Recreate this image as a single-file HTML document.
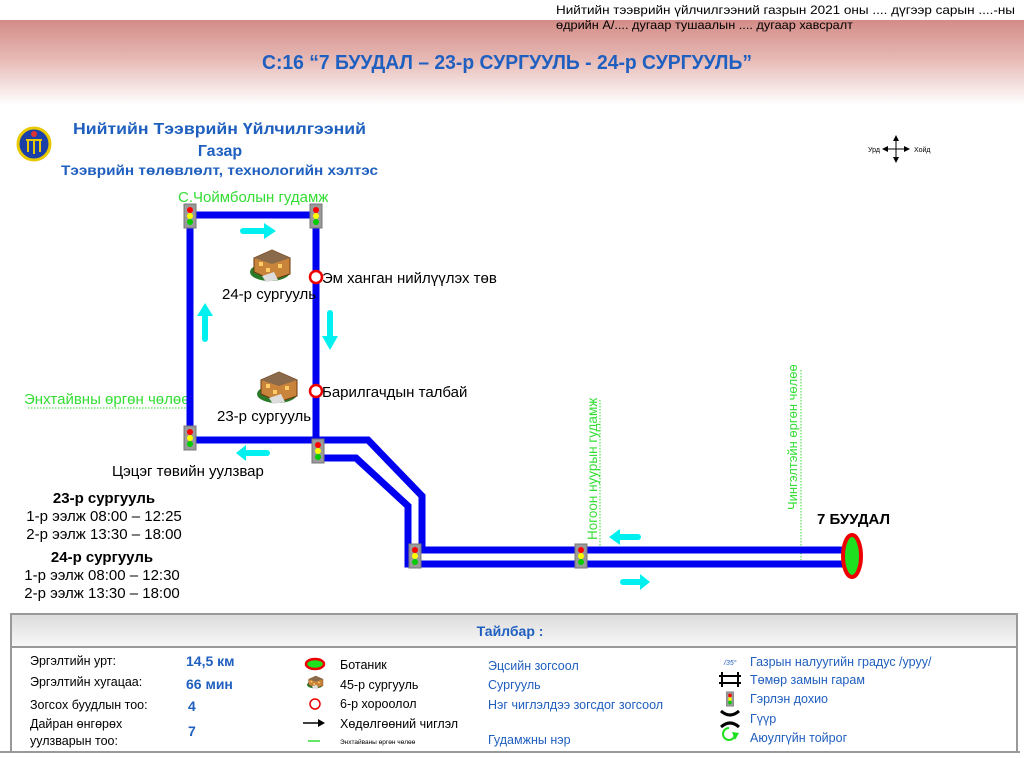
<!DOCTYPE html>
<html><head><meta charset="utf-8"><style>
body{margin:0;width:1024px;height:758px;overflow:hidden;background:#fff}
svg{display:block;font-family:"Liberation Sans",sans-serif}
</style></head><body>
<svg width="1024" height="758" viewBox="0 0 1024 758" xmlns="http://www.w3.org/2000/svg">
<defs>
<linearGradient id="hd" x1="0" y1="0" x2="0" y2="1">
<stop offset="0" stop-color="#d38c87"/><stop offset="0.45" stop-color="#e6b8b4"/><stop offset="1" stop-color="#ffffff"/>
</linearGradient>
<linearGradient id="lg" x1="0" y1="0" x2="0" y2="1">
<stop offset="0" stop-color="#dcdcdc"/><stop offset="1" stop-color="#f8f8f8"/>
</linearGradient>
<g id="tl"><rect x="-6" y="-12" width="12" height="24" fill="#9a9a9a" stroke="#777" stroke-width="1"/>
<circle cx="0" cy="-6" r="3" fill="#f00"/><circle cx="0" cy="0" r="3" fill="#ff0"/><circle cx="0" cy="6" r="3" fill="#0c0"/></g>
<g id="sch">
<ellipse cx="20" cy="22" rx="20" ry="9" fill="#2a7a2a"/>
<polygon points="4,8 22,0 40,8 40,24 22,30 4,22" fill="#c8843a" stroke="#6a3a10" stroke-width="1"/>
<polygon points="4,8 22,0 40,8 22,14" fill="#8a6a4a"/>
<rect x="9" y="12" width="4" height="4" fill="#fc6"/><rect x="28" y="14" width="4" height="4" fill="#fc6"/><rect x="16" y="18" width="4" height="4" fill="#fc6"/>
<polygon points="12,26 24,22 28,30 16,32" fill="#ddd"/>
</g>
</defs>

<rect x="0" y="20" width="1024" height="85" fill="url(#hd)"/>
<text x="556" y="14" font-size="12" fill="#000" textLength="459" lengthAdjust="spacingAndGlyphs">Нийтийн тээврийн үйлчилгээний газрын 2021 оны .... дүгээр  сарын ....-ны</text>
<text x="556" y="29" font-size="12" fill="#000" textLength="297" lengthAdjust="spacingAndGlyphs">өдрийн А/.... дугаар тушаалын .... дугаар хавсралт</text>
<text x="262" y="69" font-size="20" font-weight="bold" fill="#1f5fbf" textLength="490" lengthAdjust="spacingAndGlyphs">С:16 “7 БУУДАЛ – 23-р СУРГУУЛЬ - 24-р СУРГУУЛЬ”</text>

<circle cx="34" cy="144" r="16" fill="#1a3fa8" stroke="#e8c800" stroke-width="3"/>
<path d="M26,140 h16 M28,140 v12 M40,140 v12 M34,140 v14" stroke="#e8c800" stroke-width="2"/>
<circle cx="34" cy="134" r="3" fill="#d33"/>
<text x="73" y="134" font-size="16" font-weight="bold" fill="#1f5fbf" textLength="293" lengthAdjust="spacingAndGlyphs">Нийтийн Тээврийн Үйлчилгээний</text>
<text x="220" y="156" font-size="16" font-weight="bold" fill="#1f5fbf" text-anchor="middle">Газар</text>
<text x="61" y="175" font-size="14" font-weight="bold" fill="#1f5fbf" textLength="317" lengthAdjust="spacingAndGlyphs">Тээврийн төлөвлөлт, технологийн хэлтэс</text>

<g stroke="#000" stroke-width="1"><line x1="896" y1="139" x2="896" y2="159"/><line x1="886" y1="149" x2="906" y2="149"/></g>
<polygon points="896,135 893,141 899,141" fill="#000"/><polygon points="896,163 893,157 899,157" fill="#000"/>
<polygon points="882,149 888,146 888,152" fill="#000"/><polygon points="910,149 904,146 904,152" fill="#000"/>
<text x="868" y="152" font-size="7">Урд</text><text x="914" y="152" font-size="7">Хойд</text>

<g stroke="#33dd33" stroke-width="1" stroke-dasharray="1.5,1.5" fill="none">
<line x1="28" y1="408" x2="188" y2="408"/><line x1="600" y1="400" x2="600" y2="551"/><line x1="801" y1="370" x2="801" y2="560"/>
</g>
<text x="178" y="202" font-size="15" fill="#33dd33">С.Чоймболын гудамж</text>
<text x="24" y="404" font-size="15" fill="#33dd33">Энхтайвны өргөн чөлөө</text>
<text transform="translate(597,540) rotate(-90)" font-size="13.5" fill="#33dd33">Ногоон нуурын гудамж</text>
<text transform="translate(797,510) rotate(-90)" font-size="13" fill="#33dd33">Чингэлтэйн өргөн чөлөө</text>

<g stroke="#0000f0" stroke-width="7" fill="none" stroke-linejoin="miter">
<path d="M190,215 H316 V443"/>
<path d="M190,215 V440 H368 L422,496 V550 H848"/>
<path d="M318,458 H356 L408,506 V564 H848"/>
</g>

<use href="#tl" x="190" y="216"/><use href="#tl" x="316" y="216"/><use href="#tl" x="190" y="438"/>
<use href="#tl" x="318" y="451"/><use href="#tl" x="415" y="556"/><use href="#tl" x="581" y="556"/>

<circle cx="316" cy="277" r="6" fill="#fff" stroke="#e00" stroke-width="2.5"/>
<circle cx="316" cy="391" r="6" fill="#fff" stroke="#e00" stroke-width="2.5"/>
<ellipse cx="852" cy="556" rx="9" ry="21" fill="#1ee01e" stroke="#e00" stroke-width="4"/>

<use href="#sch" x="250" y="250"/><use href="#sch" x="257" y="372"/>
<text x="222" y="299" font-size="15">24-р сургууль</text>
<text x="217" y="421" font-size="15">23-р сургууль</text>
<text x="322" y="283" font-size="15">Эм ханган нийлүүлэх төв</text>
<text x="322" y="397" font-size="15">Барилгачдын талбай</text>
<text x="112" y="476" font-size="15">Цэцэг төвийн уулзвар</text>
<text x="817" y="524" font-size="15" font-weight="bold">7 БУУДАЛ</text>

<g fill="#00f0f0">
<rect x="240" y="228" width="26" height="6" rx="3"/><polygon points="264,223 276,231 264,239"/>
<rect x="202" y="314" width="6" height="28" rx="3"/><polygon points="197,316 205,303 213,316"/>
<rect x="327" y="310" width="6" height="28" rx="3"/><polygon points="322,336 330,350 338,336"/>
<rect x="244" y="450" width="26" height="6" rx="3"/><polygon points="246,445 236,453 246,461"/>
<rect x="617" y="534" width="24" height="6" rx="3"/><polygon points="620,529 609,537 620,545"/>
<rect x="620" y="579" width="24" height="6" rx="3"/><polygon points="640,574 650,582 640,590"/>
</g>

<g font-size="15" text-anchor="middle">
<text x="104" y="503" font-weight="bold">23-р сургууль</text>
<text x="104" y="521">1-р ээлж 08:00 – 12:25</text>
<text x="104" y="539">2-р ээлж 13:30 – 18:00</text>
<text x="102" y="562" font-weight="bold">24-р сургууль</text>
<text x="102" y="580">1-р ээлж 08:00 – 12:30</text>
<text x="102" y="598">2-р ээлж 13:30 – 18:00</text>
</g>

<line x1="0" y1="752" x2="1020" y2="752" stroke="#999" stroke-width="2"/>
<rect x="11" y="614" width="1006" height="138" fill="#fff" stroke="#999" stroke-width="2"/>
<rect x="12" y="615" width="1004" height="32" fill="url(#lg)"/>
<line x1="11" y1="647" x2="1017" y2="647" stroke="#999" stroke-width="2"/>
<text x="510" y="636" font-size="14" font-weight="bold" fill="#1f5fbf" text-anchor="middle">Тайлбар :</text>
<g font-size="12.5" fill="#000">
<text x="30" y="665">Эргэлтийн урт:</text>
<text x="30" y="686">Эргэлтийн хугацаа:</text>
<text x="30" y="709">Зогсох буудлын тоо:</text>
<text x="30" y="728">Дайран өнгөрөх</text>
<text x="30" y="745">уулзварын тоо:</text>
</g>
<g font-size="14" font-weight="bold" fill="#1f5fbf">
<text x="186" y="666">14,5 км</text><text x="186" y="689">66 мин</text><text x="188" y="711">4</text><text x="188" y="736">7</text>
</g>
<ellipse cx="315" cy="664" rx="9" ry="5" fill="#1ee01e" stroke="#e00" stroke-width="2.5"/>
<use href="#sch" transform="translate(307,676) scale(0.4)"/>
<circle cx="315" cy="704" r="5" fill="none" stroke="#e00" stroke-width="1.5"/>
<line x1="303" y1="723" x2="323" y2="723" stroke="#000" stroke-width="1.5"/><polygon points="318,719 325,723 318,727" fill="#000"/>
<line x1="308" y1="741" x2="320" y2="741" stroke="#33dd33" stroke-width="1.5"/>
<g font-size="12.5">
<text x="340" y="669">Ботаник</text><text x="340" y="689">45-р сургууль</text><text x="340" y="708">6-р хороолол</text><text x="340" y="728">Хөдөлгөөний чиглэл</text>
<text x="340" y="744" font-size="6.5">Энхтайваны өргөн чөлөө</text>
</g>
<g font-size="12.5" fill="#1f5fbf">
<text x="488" y="670">Эцсийн зогсоол</text><text x="488" y="689">Сургууль</text><text x="488" y="709">Нэг чиглэлдээ зогсдог зогсоол</text><text x="488" y="744">Гудамжны нэр</text>
<text x="750" y="666">Газрын налуугийн градус /уруу/</text>
<text x="750" y="684">Төмөр замын гарам</text>
<text x="750" y="703">Гэрлэн дохио</text>
<text x="750" y="723">Гүүр</text>
<text x="750" y="742">Аюулгүйн тойрог</text>
</g>
<text x="724" y="665" font-size="7" font-style="italic" fill="#1f5fbf">/35°</text>
<g stroke="#000" stroke-width="2"><line x1="719" y1="676" x2="741" y2="676"/><line x1="719" y1="683" x2="741" y2="683"/><line x1="722" y1="672" x2="722" y2="687"/><line x1="738" y1="672" x2="738" y2="687"/></g>
<use href="#tl" transform="translate(730,699) scale(0.6)"/>
<path d="M721,711 q9,8 18,0 M721,727 q9,-8 18,0" stroke="#000" stroke-width="3" fill="none"/>
<path d="M735,734 a6,6 0 1 1 -6,-6" stroke="#1ee01e" stroke-width="2" fill="none"/>
<polygon points="732,732 739,733 735,740" fill="#1ee01e"/>
</svg>
</body></html>
